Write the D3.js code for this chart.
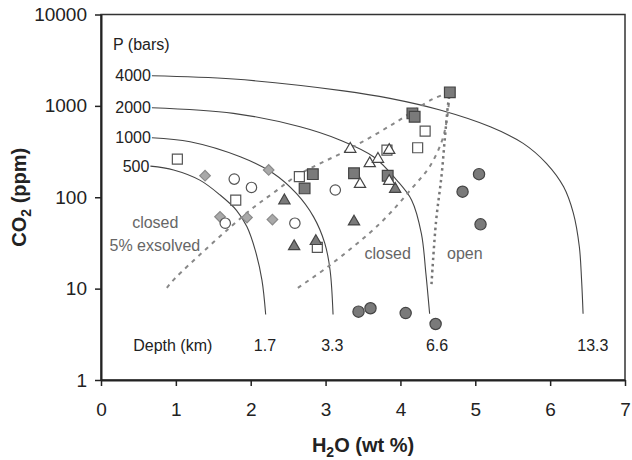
<!DOCTYPE html>
<html>
<head>
<meta charset="utf-8">
<script src="https://cdn.jsdelivr.net/npm/d3@7"></script>
<style>
  body { margin: 0; background: #fff; }
  text { font-family: "Liberation Sans", Arial, sans-serif; }
</style>
</head>
<body>
<div id="chart"></div>
<script>
// Axis ticks
const xTicks = [0, 1, 2, 3, 4, 5, 6, 7];
const yTicks = [1, 10, 100, 1000, 10000];

// Isobars (H2O wt %, CO2 ppm)
const pressureLabels = ["4000", "2000", "1000", "500"];
const isobar4000 = [[0.68, 2135], [1.77, 1965], [3.24, 1460], [3.86, 1208], [4.53, 900], [5.20, 590], [5.64, 389], [5.95, 235], [6.18, 130], [6.31, 67], [6.39, 28.7], [6.42, 12.4], [6.44, 5.3]];
const isobar2000 = [[0.68, 953], [1.77, 828], [2.66, 590], [3.19, 423], [3.64, 277], [3.95, 154], [4.15, 93], [4.28, 40], [4.34, 14.7], [4.39, 5.3]];
const isobar1000 = [[0.68, 448], [1.19, 405], [1.86, 277], [2.30, 183], [2.61, 110], [2.84, 61], [2.99, 31.3], [3.06, 16], [3.10, 5.2]];
const isobar500 = [[0.66, 219], [0.97, 199], [1.32, 154], [1.59, 106], [1.81, 72], [1.95, 47.5], [2.06, 26.4], [2.15, 12.4], [2.20, 5.2]];

// Degassing paths
const closedExsolved = [[0.88, 10.2], [0.99, 13], [1.99, 72], [2.30, 111], [2.63, 175], [3.29, 328], [3.90, 632], [4.43, 1186], [4.66, 1400]];
const closedPath = [[2.63, 10.2], [3.06, 18.1], [3.73, 52], [4.17, 130], [4.39, 216], [4.55, 405], [4.62, 700], [4.66, 1400]];
const openPath = [[4.415, 11.2], [4.475, 53.5], [4.55, 175], [4.595, 456], [4.635, 1020], [4.66, 1400]];

// Depth labels at the foot of each isobar
const depthLabels = ["1.7", "3.3", "6.6", "13.3"];
const depthX = [2.19, 3.09, 4.49, 6.57];

// Melt inclusion analyses (H2O wt %, CO2 ppm)
const openSquares = [[1.02, 262], [1.80, 93], [2.65, 168], [2.89, 28.3], [3.82, 328], [4.33, 530], [4.23, 348]];
const grayDiamonds = [[1.39, 172], [2.24, 199], [1.59, 61], [1.95, 60], [2.29, 57]];
const openCircles = [[1.78, 158], [2.01, 128], [1.66, 52], [2.59, 52], [3.13, 120]];
const darkTriangles = [[2.45, 92], [2.58, 29], [2.87, 33], [3.38, 54], [3.93, 123]];
const darkSquares = [[2.83, 179], [2.72, 125], [3.38, 183], [3.83, 172], [4.16, 828], [4.19, 760], [4.66, 1406]];
const openTriangles = [[3.33, 337], [3.85, 328], [3.59, 235], [3.70, 262], [3.46, 139], [3.85, 150]];
const darkCircles = [[5.05, 179], [4.83, 115], [5.07, 50.5], [3.44, 5.6], [3.60, 6.1], [4.07, 5.4], [4.47, 4.1]];

const width = 632;
const height = 460;
const margin = { top: 14.5, right: 7, bottom: 80, left: 101 };

const svg = d3.select("#chart")
    .append("svg")
    .attr("width", width)
    .attr("height", height);

const x = d3.scaleLinear().domain([0, 7]).range([margin.left, width - margin.right]);
const y = d3.scaleLog().domain([1, 10000]).range([height - margin.bottom, margin.top]);

// Frame
svg.append("rect")
    .attr("x", x(0))
    .attr("y", y(10000))
    .attr("width", x(7) - x(0))
    .attr("height", y(1) - y(10000))
    .attr("fill", "none")
    .attr("stroke", "#333")
    .attr("stroke-width", 1.5);

// Axes
const yAxis = svg.append("g")
    .attr("transform", `translate(${margin.left},0)`)
    .call(d3.axisLeft(y).tickValues(yTicks).tickFormat(d3.format("d")).tickSize(6).tickSizeOuter(0).tickPadding(8));

const xAxis = svg.append("g")
    .attr("transform", `translate(0,${height - margin.bottom})`)
    .call(d3.axisBottom(x).tickValues(xTicks).tickFormat(d3.format("d")).tickSize(6).tickSizeOuter(0).tickPadding(17));

[xAxis, yAxis].forEach(g => {
    g.select(".domain").attr("stroke", "#222").attr("stroke-width", 2);
    g.selectAll(".tick line").attr("stroke", "#222").attr("stroke-width", 1.5);
    g.selectAll(".tick text")
        .attr("font-family", "Liberation Sans, Arial, sans-serif")
        .attr("font-size", 19)
        .attr("fill", "#222");
});

// Axis titles
const xTitle = svg.append("text")
    .attr("x", (x(0) + x(7)) / 2)
    .attr("y", 452)
    .attr("text-anchor", "middle")
    .attr("font-size", 20)
    .attr("font-weight", "bold")
    .attr("fill", "#222");
xTitle.append("tspan").text("H");
xTitle.append("tspan").attr("font-size", 14).attr("dy", 5).text("2");
xTitle.append("tspan").attr("dy", -5).text("O (wt %)");

const yTitle = svg.append("text")
    .attr("transform", `translate(26,${(y(1) + y(10000)) / 2}) rotate(-90)`)
    .attr("text-anchor", "middle")
    .attr("font-size", 20)
    .attr("font-weight", "bold")
    .attr("fill", "#222");
yTitle.append("tspan").text("CO");
yTitle.append("tspan").attr("font-size", 14).attr("dy", 5).text("2");
yTitle.append("tspan").attr("dy", -5).text(" (ppm)");

const line = d3.line()
    .x(d => x(d[0]))
    .y(d => y(d[1]))
    .curve(d3.curveCatmullRom.alpha(0.5));

// Isobars
const isobars = [isobar4000, isobar2000, isobar1000, isobar500];
isobars.forEach((pts, i) => {
    svg.append("path")
        .attr("d", line(pts))
        .attr("fill", "none")
        .attr("stroke", "#444")
        .attr("stroke-width", 1.1);
    svg.append("text")
        .attr("x", x(pts[0][0]) - 1)
        .attr("y", y(pts[0][1]))
        .attr("dy", "0.35em")
        .attr("text-anchor", "end")
        .attr("font-size", 16)
        .attr("fill", "#222")
        .text(pressureLabels[i]);
});

// Degassing paths
[closedExsolved, closedPath].forEach(pts => {
    svg.append("path")
        .attr("d", line(pts))
        .attr("fill", "none")
        .attr("stroke", "#888")
        .attr("stroke-width", 2)
        .attr("stroke-dasharray", "4,5");
});
svg.append("path")
    .attr("d", line(openPath))
    .attr("fill", "none")
    .attr("stroke", "#777")
    .attr("stroke-width", 2.5)
    .attr("stroke-dasharray", "2.5,3.5");

// Annotations
svg.append("text")
    .attr("x", x(0.16)).attr("y", y(4100))
    .attr("font-size", 16).attr("fill", "#222")
    .text("P (bars)");

svg.append("text")
    .attr("x", x(0.43)).attr("y", y(2.1))
    .attr("font-size", 16).attr("fill", "#222")
    .text("Depth (km)");

svg.selectAll(".depth")
    .data(depthLabels)
    .enter()
    .append("text")
    .attr("class", "depth")
    .attr("x", (d, i) => x(depthX[i]))
    .attr("y", y(2.1))
    .attr("text-anchor", "middle")
    .attr("font-size", 16)
    .attr("fill", "#222")
    .text(d => d);

const grayLabels = [
    { text: "closed", x: 0.725, y: 46 },
    { text: "5% exsolved", x: 0.72, y: 26 },
    { text: "closed", x: 3.83, y: 21.1 },
    { text: "open", x: 4.86, y: 21.1 }
];
svg.selectAll(".path-label")
    .data(grayLabels)
    .enter()
    .append("text")
    .attr("class", "path-label")
    .attr("x", d => x(d.x))
    .attr("y", d => y(d.y))
    .attr("text-anchor", "middle")
    .attr("font-size", 16)
    .attr("fill", "#666")
    .text(d => d.text);

// Markers
function drawMarkers(data, type, size, fill, stroke, rotate) {
    svg.append("g")
        .selectAll("path")
        .data(data)
        .enter()
        .append("path")
        .attr("d", d3.symbol().type(type).size(size))
        .attr("transform", d => `translate(${x(d[0])},${y(d[1])})` + (rotate ? " rotate(45)" : ""))
        .attr("fill", fill)
        .attr("stroke", stroke)
        .attr("stroke-width", 1.2);
}

drawMarkers(grayDiamonds, d3.symbolSquare, 56, "#a9a9a9", "#8a8a8a", true);
drawMarkers(openCircles, d3.symbolCircle, 85, "#fff", "#555");
drawMarkers(openSquares, d3.symbolSquare, 100, "#fff", "#555");
drawMarkers(darkSquares, d3.symbolSquare, 115, "#7a7a7a", "#444");
drawMarkers(darkTriangles, d3.symbolTriangle, 55, "#7a7a7a", "#444");
drawMarkers(openTriangles, d3.symbolTriangle, 55, "#fff", "#444");
drawMarkers(darkCircles, d3.symbolCircle, 100, "#7a7a7a", "#444");
</script>
</body>
</html>
